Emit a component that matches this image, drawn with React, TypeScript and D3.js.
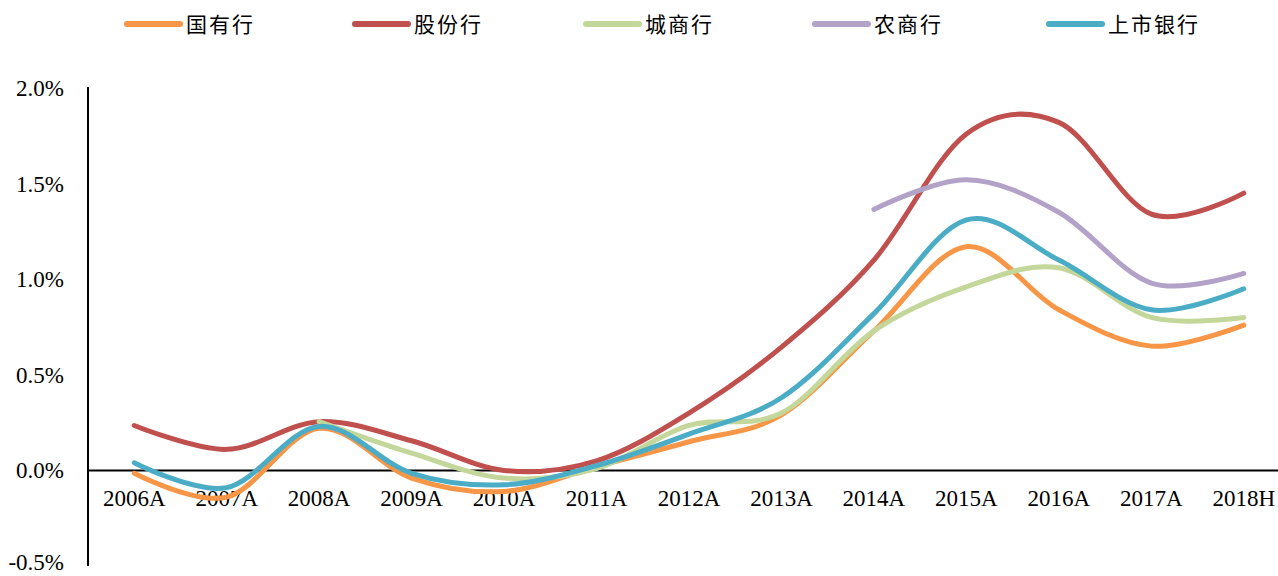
import React from "react";
import * as d3 from "d3";

// Categories (x axis) and y-axis tick values
const categories = [
  "2006A", "2007A", "2008A", "2009A", "2010A", "2011A", "2012A",
  "2013A", "2014A", "2015A", "2016A", "2017A", "2018H",
];
const yTicks = [-0.5, 0, 0.5, 1.0, 1.5, 2.0];

// Series values, in percent
const stateOwned = [-0.015, -0.14, 0.22, -0.04, -0.11, 0.02, 0.15, 0.29, 0.73, 1.17, 0.84, 0.65, 0.76];
const jointStock = [0.235, 0.11, 0.255, 0.155, 0.0, 0.05, 0.3, 0.645, 1.1, 1.76, 1.82, 1.34, 1.45];
const cityBanks = [null, null, 0.255, 0.09, -0.04, 0.01, 0.235, 0.3, 0.73, 0.96, 1.06, 0.8, 0.8];
const ruralBanks = [null, null, null, null, null, null, null, null, 1.365, 1.52, 1.35, 0.98, 1.03];
const listedBanks = [0.04, -0.09, 0.23, -0.015, -0.075, 0.025, 0.19, 0.38, 0.82, 1.31, 1.1, 0.84, 0.95];

const seriesNames = ["国有行", "股份行", "城商行", "农商行", "上市银行"];
const seriesColors = ["#F79646", "#C0504D", "#C4D79B", "#B3A2C7", "#4BACC6"];
const seriesValues: (number | null)[][] = [stateOwned, jointStock, cityBanks, ruralBanks, listedBanks];

const W = 1278;
const H = 576;
const plotLeft = 88;
const plotRight = 1290;
const yTop = 88;
const yBottom = 566;

const pct = (t: number) => d3.format(".1f")(t).replace("\u2212", "-") + "%";

export default function App() {
  const x = d3.scaleBand<string>().domain(categories).range([plotLeft, plotRight]);
  const y = d3.scaleLinear().domain([-0.5, 2.0]).range([yBottom, yTop]);
  const cx = (c: string) => (x(c) as number) + x.bandwidth() / 2;

  const line = d3
    .line<{ c: string; v: number | null }>()
    .defined((d) => d.v !== null)
    .x((d) => cx(d.c))
    .y((d) => y(d.v as number))
    .curve(d3.curveCardinal.tension(0));

  const legendX = [127, 355, 586, 815, 1049];
  const serif = "'Liberation Serif', 'Times New Roman', serif";

  return (
    <svg
      width={W}
      height={H}
      style={{ position: "absolute", left: 0, top: 0, background: "#fff" }}
    >
      {/* legend */}
      {seriesNames.map((name, i) => (
        <g key={name}>
          <line
            x1={legendX[i]}
            x2={legendX[i] + 53}
            y1={24}
            y2={24}
            stroke={seriesColors[i]}
            strokeWidth={6}
            strokeLinecap="round"
          />
          <text
            x={legendX[i] + 59}
            y={24}
            dy="0.36em"
            fontFamily="'Noto Sans CJK SC', sans-serif"
            fontSize={21}
            letterSpacing={2}
            fill="#000"
          >
            {name}
          </text>
        </g>
      ))}

      {/* y axis */}
      <line x1={plotLeft} x2={plotLeft} y1={yTop - 1} y2={yBottom} stroke="#000" strokeWidth={2} />
      {yTicks.map((t) => (
        <text
          key={t}
          x={64}
          y={Math.min(y(t), 562)}
          dy="0.35em"
          textAnchor="end"
          fontFamily={serif}
          fontSize={23}
          fill="#000"
        >
          {pct(t)}
        </text>
      ))}

      {/* x axis at zero */}
      <line x1={plotLeft} x2={W} y1={y(0)} y2={y(0)} stroke="#000" strokeWidth={2} />
      {categories.map((c) => (
        <text
          key={c}
          x={cx(c)}
          y={498}
          dy="0.35em"
          textAnchor="middle"
          fontFamily={serif}
          fontSize={23}
          fill="#000"
        >
          {c}
        </text>
      ))}

      {/* series */}
      {seriesValues.map((vals, i) => (
        <path
          key={seriesNames[i]}
          d={line(categories.map((c, j) => ({ c, v: vals[j] }))) as string}
          fill="none"
          stroke={seriesColors[i]}
          strokeWidth={5}
          strokeLinecap="round"
          strokeLinejoin="round"
        />
      ))}
    </svg>
  );
}
